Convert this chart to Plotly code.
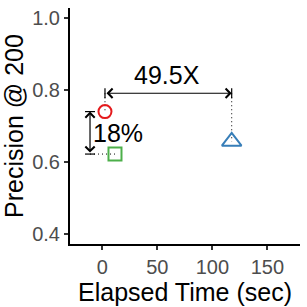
import plotly.graph_objects as go

# data
elapsed = [2.4, 11.5, 117.6]
precision = [0.740, 0.622, 0.657]
colors = ["#E41A1C", "#4DAF4A", "#377EB8"]
symbols = ["circle-open", "square-open", "triangle-up-open"]
sizes = [13, 13, 17]
speed_label = "49.5X"
gain_label = "18%"
x_ticks = [0, 50, 100, 150]
y_ticks = [0.4, 0.6, 0.8, 1.0]

arrow_y = 0.791
vert_x = -11.2

fig = go.Figure()

dot = dict(color="black", width=1, dash="1px,3px")
# dotted guide lines
fig.add_trace(go.Scatter(x=[elapsed[0], elapsed[0]], y=[arrow_y, precision[0]], mode="lines",
                         line=dot, hoverinfo="skip"))
fig.add_trace(go.Scatter(x=[elapsed[2], elapsed[2]], y=[arrow_y, precision[2]], mode="lines",
                         line=dot, hoverinfo="skip"))
fig.add_trace(go.Scatter(x=[vert_x, elapsed[1]], y=[precision[1], precision[1]], mode="lines",
                         line=dot, hoverinfo="skip"))

for i in range(3):
    fig.add_trace(go.Scatter(x=[elapsed[i]], y=[precision[i]], mode="markers",
                             marker=dict(symbol=symbols[i], size=sizes[i], color=colors[i],
                                         line=dict(width=2, color=colors[i]))))

# arrows
fig.add_annotation(x=elapsed[2], y=arrow_y, ax=elapsed[0], ay=arrow_y, xref="x", yref="y",
                   axref="x", ayref="y", text="", showarrow=True, arrowhead=4, startarrowhead=4,
                   arrowside="end+start", arrowsize=1.5, startarrowsize=1.5, arrowwidth=1.2,
                   arrowcolor="black")
fig.add_annotation(x=vert_x, y=precision[0], ax=vert_x, ay=precision[1], xref="x", yref="y",
                   axref="x", ayref="y", text="", showarrow=True, arrowhead=4, startarrowhead=4,
                   arrowside="end+start", arrowsize=1.5, startarrowsize=1.5, arrowwidth=1.2,
                   arrowcolor="black")

# end bars
for xv in [elapsed[0], elapsed[2]]:
    fig.add_shape(type="line", xref="x", yref="y", x0=xv, x1=xv, ysizemode="pixel", yanchor=arrow_y,
                  y0=-5, y1=5, line=dict(color="black", width=1.2))
for yv in [precision[0], precision[1]]:
    fig.add_shape(type="line", xref="x", yref="y", y0=yv, y1=yv, xsizemode="pixel", xanchor=vert_x,
                  x0=-5, x1=5, line=dict(color="black", width=1.2))

fig.add_annotation(x=58.5, y=0.842, text=speed_label, showarrow=False,
                   font=dict(size=25, color="black", family="Liberation Sans"))
fig.add_annotation(x=14, y=0.681, text=gain_label, showarrow=False,
                   font=dict(size=25, color="black", family="Liberation Sans"))

fig.update_layout(
    width=307, height=307, showlegend=False,
    margin=dict(l=70, r=7, t=8, b=63),
    plot_bgcolor="white", paper_bgcolor="white",
    font=dict(family="Liberation Sans"),
)
fig.update_xaxes(range=[-29.4, 179.7], tickvals=x_ticks, showgrid=False, zeroline=False,
                 automargin=False,
                 showline=True, linecolor="black", linewidth=2, ticks="outside", ticklen=4,
                 tickwidth=1.5, tickcolor="#333333", tickfont=dict(size=20, color="#4D4D4D"),
                 title=dict(text="Elapsed Time (sec)", font=dict(size=25, color="black"), standoff=2))
fig.update_yaxes(range=[0.372, 1.028], tickvals=y_ticks, tickformat=".1f", showgrid=False, zeroline=False,
                 automargin=False,
                 showline=True, linecolor="black", linewidth=2, ticks="outside", ticklen=4,
                 tickwidth=1.5, tickcolor="#333333", tickfont=dict(size=20, color="#4D4D4D"),
                 title=dict(text="Precision @ 200", font=dict(size=25, color="black"), standoff=4))

fig.write_html("out.html", config={"displayModeBar": False},
               post_script="document.body.style.margin='0';")
